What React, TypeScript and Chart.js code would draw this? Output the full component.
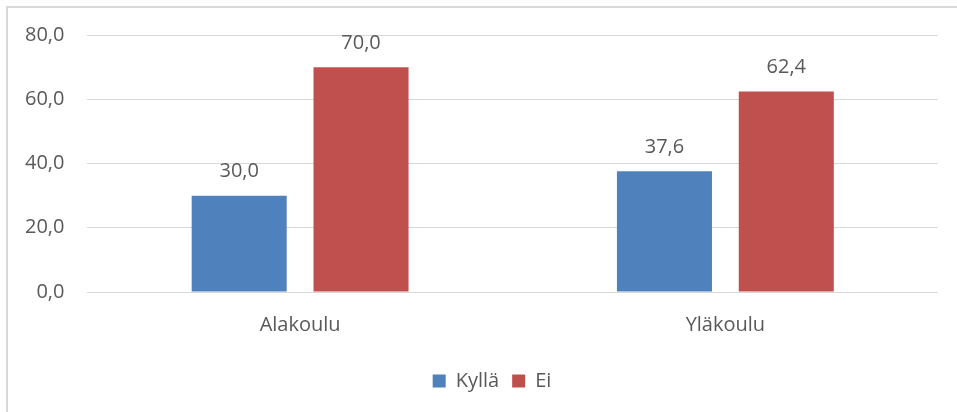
import React, { useEffect, useRef } from "react";
import { Chart, registerables } from "chart.js";

Chart.register(...registerables);

const categories = ["Alakoulu", "Yläkoulu"];
const seriesNames = ["Kyllä", "Ei"];
const kylla = [30.0, 37.6];
const ei = [70.0, 62.4];
const yTicks = [0, 20, 40, 60, 80];
const colors = ["#4F81BD", "#C0504D"];

const FONT = "'Open Sans', 'Noto Sans', sans-serif";
const TEXT = "#595959";
const fmt = (v: number) => v.toFixed(1).replace(".", ",");

const valueLabels = {
  id: "valueLabels",
  afterDatasetsDraw(chart: any) {
    const ctx = chart.ctx;
    ctx.save();
    ctx.font = `20px ${FONT}`;
    ctx.fillStyle = TEXT;
    ctx.textAlign = "center";
    ctx.textBaseline = "middle";
    chart.data.datasets.forEach((ds: any, i: number) => {
      const meta = chart.getDatasetMeta(i);
      meta.data.forEach((el: any, j: number) => {
        ctx.fillText(fmt(ds.data[j]), el.x, el.y - 24);
      });
    });
    ctx.restore();
  },
};

const legendShift = {
  id: "legendShift",
  afterLayout(chart: any) {
    const lg = chart.legend;
    if (lg) {
      lg.left += 22;
      lg.right += 22;
    }
  },
};

export default function App() {
  const ref = useRef<HTMLCanvasElement>(null);
  useEffect(() => {
    if (!ref.current) return;
    const chart = new Chart(ref.current, {
      type: "bar",
      data: {
        labels: categories,
        datasets: [
          { label: seriesNames[0], data: kylla, backgroundColor: colors[0] },
          { label: seriesNames[1], data: ei, backgroundColor: colors[1] },
        ],
      },
      options: {
        animation: false,
        responsive: false,
        maintainAspectRatio: false,
        datasets: {
          bar: { categoryPercentage: 0.573, barPercentage: 0.78 },
        },
        layout: { padding: { left: 2, right: 19, top: 35, bottom: 11 } },
        scales: {
          x: {
            grid: { display: false, drawTicks: false },
            border: { display: false },
            ticks: { color: TEXT, font: { family: FONT, size: 20 }, padding: 21 },
          },
          y: {
            min: 0,
            max: 80,
            afterBuildTicks: (scale: any) => {
              scale.ticks = yTicks.map((v) => ({ value: v }));
            },
            grid: { color: "#D9D9D9", lineWidth: 1, drawTicks: false },
            border: { display: false },
            ticks: {
              color: TEXT,
              font: { family: FONT, size: 20 },
              padding: 23,
              callback: (v: any) => fmt(Number(v)),
            },
          },
        },
        plugins: {
          legend: {
            position: "bottom",
            labels: {
              color: TEXT,
              font: { family: FONT, size: 20 },
              boxWidth: 13,
              boxHeight: 13,
              padding: 13,
            },
          },
          tooltip: { enabled: false },
        },
      },
      plugins: [valueLabels, legendShift],
    });
    return () => chart.destroy();
  }, []);
  return (
    <div style={{ position: "fixed", left: 0, top: 0, width: 957, height: 412, background: "#fff", overflow: "hidden" }}>
      <div style={{ position: "absolute", left: 6, top: 6, width: 1000, height: 500, border: "2px solid #D9D9D9", boxSizing: "border-box" }} />
      <canvas ref={ref} width={957} height={412} style={{ position: "absolute", left: 0, top: 0, display: "block" }} />
    </div>
  );
}
